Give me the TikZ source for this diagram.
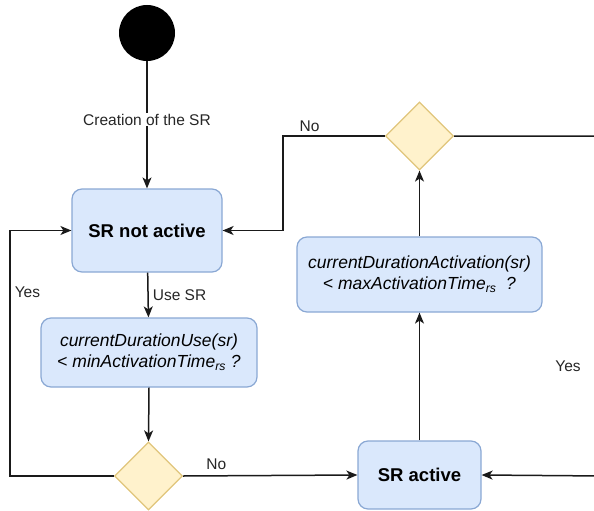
\documentclass[tikz,border=0pt]{standalone}
\usepackage{fontspec}
\setmainfont{Liberation Sans}
\usetikzlibrary{shapes.geometric,arrows.meta}
\definecolor{boxfill}{HTML}{DAE8FC}
\definecolor{boxline}{HTML}{8AA8D4}
\definecolor{decfill}{HTML}{FFF2CC}
\definecolor{decline}{HTML}{E0C57A}
\definecolor{flow}{HTML}{1A1A1A}
\tikzset{
  state/.style={draw=boxline, fill=boxfill, rounded corners=10pt, line width=1.2pt,
    align=center, inner sep=0pt},
  decision/.style={diamond, aspect=1, draw=decline, fill=decfill, line width=1.2pt,
    inner sep=0pt, minimum size=68pt},
  startdot/.style={circle, fill=black, minimum size=56pt, inner sep=0pt},
  flowline/.style={draw=flow, line width=1.5pt},
  flowarrow/.style={flowline, -{Stealth[length=11pt,width=9pt,inset=3pt]}},
  lbl/.style={font=\fontsize{15.5}{18}\selectfont, text=black!85, inner sep=1pt},
  boldtxt/.style={font=\fontsize{18.5}{21}\selectfont\bfseries},
  condtxt/.style={font=\fontsize{17.5}{21}\selectfont\itshape},
}
\begin{document}
\begin{tikzpicture}[x=1pt,y=-1pt]
\useasboundingbox (0,0) rectangle (594,511);

% states and decisions
\node[startdot] (start) at (147,33) {};
\node[state, boldtxt, minimum width=150pt, minimum height=83pt] (idle) at (147,230.5) {SR not active};
\node[state, condtxt, minimum width=216pt, minimum height=69pt] (usecheck) at (149,352.5)
  {currentDurationUse(sr)\\ \textup{<} minActivationTime\textsubscript{rs} ?};
\node[decision] (d1) at (148.5,476) {};
\node[state, boldtxt, minimum width=123pt, minimum height=68pt] (act) at (419.5,475) {SR active};
\node[state, condtxt, minimum width=245pt, minimum height=75pt] (actcheck) at (419.5,274.5)
  {currentDurationActivation(sr)\\ \textup{<} maxActivationTime\textsubscript{rs}\ \ ?};
\node[decision] (d2) at (419.5,136) {};

% bend points
\coordinate (lc) at (10,476);
\coordinate (nc) at (283,136);
\coordinate (rc) at (604,136);
\coordinate (rb) at (604,476);

% connectors
\draw[flowarrow] (start) -- node[pos=0.46, fill=white, lbl] {Creation of the SR} (idle);
\draw[flowarrow] (idle) -- node[lbl, right=3pt] {Use SR} (usecheck);
\draw[flowarrow] (usecheck.south) -- (d1.north);
\draw[flowarrow] (d1.east) -- node[lbl, above=4pt, pos=0.19] {No} (act.west);
\draw[flowarrow] (d1.west) -- (lc) |- node[lbl, pos=0.374, right=3pt] {Yes} (idle.west);
\draw[flowarrow] (act.north) -- (actcheck.south);
\draw[flowarrow] (actcheck.north) -- (d2.south);
\draw[flowarrow] (d2.west) -- node[lbl, above=3pt, pos=0.74] {No} (nc) |- (idle.east);
\draw[flowarrow] (d2.east) -- (rc) -- (rb) -- (act.east);
\node[lbl] (yesr) at (568,366) {Yes};
\end{tikzpicture}
\end{document}
